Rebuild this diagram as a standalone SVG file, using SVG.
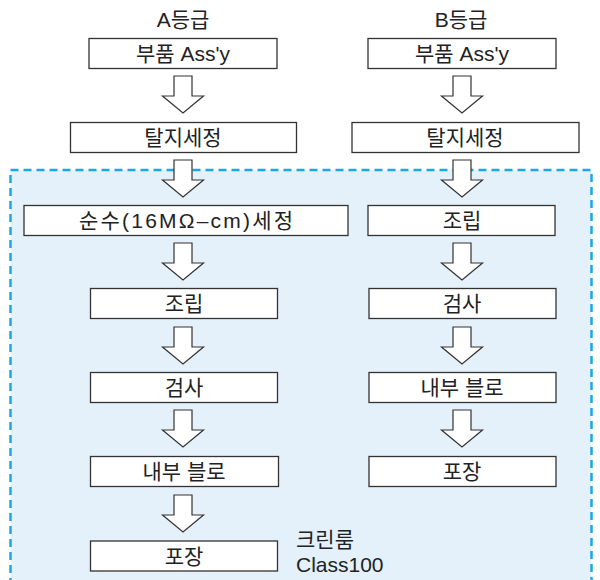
<svg xmlns="http://www.w3.org/2000/svg" width="600" height="580" viewBox="0 0 600 580">
<style>
text{font-family:"Liberation Sans","Noto Sans CJK KR",sans-serif;font-size:21px;fill:#222}
.t{text-anchor:middle;dominant-baseline:central}
.box{fill:#fff;stroke:#333;stroke-width:1.3}
.arr{fill:#fff;stroke:#333;stroke-width:1.2;stroke-linejoin:miter}
</style>
<defs>
<polygon id="arrow" points="-9,0 9,0 9,20 20.5,20 0,37 -20.5,20 -9,20"/>
</defs>
<rect id="cleanroom" x="10.5" y="170" width="581" height="420" fill="#E4F1FB" stroke="#1AA7EC" stroke-width="2.5" stroke-dasharray="8 5"/>
<g id="headers">
<text class="t" x="183" y="19">A등급</text>
<text class="t" x="461" y="19">B등급</text>
</g>
<g id="connectors" class="arr">
<use href="#arrow" x="183" y="76"/>
<use href="#arrow" x="183" y="160"/>
<use href="#arrow" x="183" y="243"/>
<use href="#arrow" x="183" y="327"/>
<use href="#arrow" x="183" y="410"/>
<use href="#arrow" x="183" y="495"/>
<use href="#arrow" x="462" y="76"/>
<use href="#arrow" x="462" y="160"/>
<use href="#arrow" x="462" y="243"/>
<use href="#arrow" x="462" y="327"/>
<use href="#arrow" x="462" y="410"/>
</g>
<g id="a1"><rect class="box" x="89" y="38.5" width="188" height="30"/><text class="t" x="183" y="53.5">부품 Ass'y</text></g>
<g id="a2"><rect class="box" x="70.5" y="122.5" width="226" height="30"/><text class="t" x="183" y="137.5">탈지세정</text></g>
<g id="a3"><rect class="box" x="24" y="205.5" width="324" height="30"/><text class="t" x="186" y="220.5" textLength="214" lengthAdjust="spacing">순수(16MΩ–cm)세정</text></g>
<g id="a4"><rect class="box" x="90.5" y="288.5" width="187" height="30"/><text class="t" x="184" y="303.5">조립</text></g>
<g id="a5"><rect class="box" x="90.5" y="372.5" width="187" height="30"/><text class="t" x="184" y="387.5">검사</text></g>
<g id="a6"><rect class="box" x="90.5" y="456.5" width="188" height="30"/><text class="t" x="184" y="471.5">내부 블로</text></g>
<g id="a7"><rect class="box" x="90.5" y="541" width="187" height="30"/><text class="t" x="184" y="556">포장</text></g>
<g id="b1"><rect class="box" x="368" y="38.5" width="188" height="30"/><text class="t" x="462" y="53.5">부품 Ass'y</text></g>
<g id="b2"><rect class="box" x="352" y="122.5" width="227" height="30"/><text class="t" x="465" y="137.5">탈지세정</text></g>
<g id="b3"><rect class="box" x="368" y="205.5" width="187" height="30"/><text class="t" x="462" y="220.5">조립</text></g>
<g id="b4"><rect class="box" x="369" y="288.5" width="187" height="30"/><text class="t" x="462" y="303.5">검사</text></g>
<g id="b5"><rect class="box" x="369" y="372.5" width="187" height="30"/><text class="t" x="462" y="387.5">내부 블로</text></g>
<g id="b6"><rect class="box" x="369" y="456.5" width="187" height="30"/><text class="t" x="462" y="471.5">포장</text></g>
<g id="label">
<text x="296" y="547">크린룸</text>
<text x="296" y="572">Class100</text>
</g>
</svg>
